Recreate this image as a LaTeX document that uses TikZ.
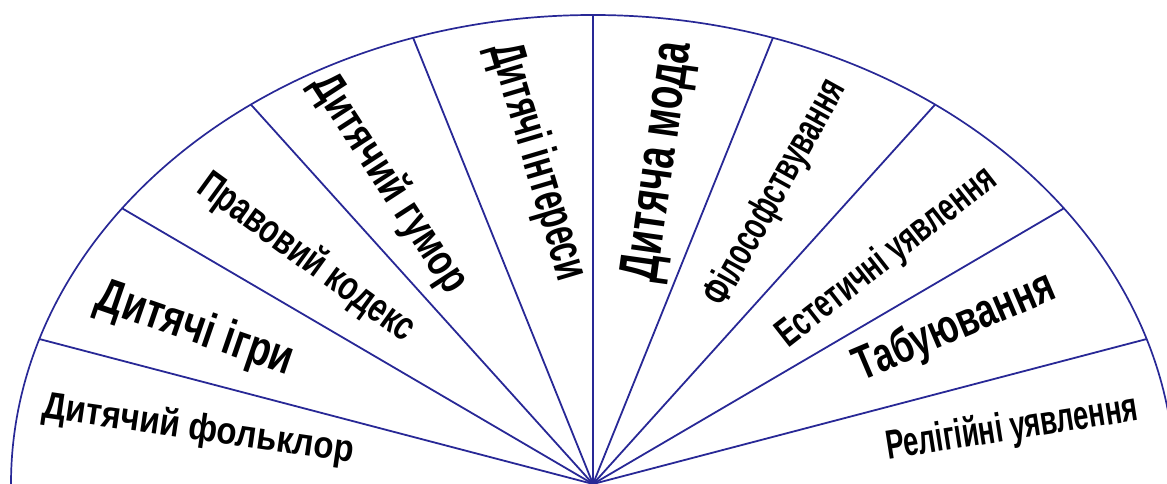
\documentclass[tikz,border=0pt]{standalone}
\usepackage{fontspec}
\setmainfont{Liberation Sans}
\usetikzlibrary{calc}
\definecolor{spokeblue}{RGB}{40,40,150}

\begin{document}
\begin{tikzpicture}[
    x=1pt, y=1pt,
    every node/.style={inner sep=0pt, text=black},
    spoke/.style={line width=1.8pt, spokeblue},
    rim/.style={line width=1.7pt, spokeblue},
    lbl/.style={font=\bfseries},
]

% === Fan: half ellipse split into ten sectors ===
\def\rimA{582}      % horizontal radius
\def\rimB{469}      % vertical radius

\useasboundingbox (0,0) rectangle (1167,484);
\coordinate (O) at (593,0);

% Outer rim
\draw[rim] (O) ++(\rimA,0) arc[start angle=0, end angle=180, x radius=\rimA, y radius=\rimB];

% Spokes
\foreach \ang in {18,36,...,162} {
    \draw[spoke] (O) -- +(\ang:\rimA pt and \rimB pt);
}
\draw[spoke] (O) -- +(90:\rimB);

% === Sector labels (left to right) ===
\node[lbl, rotate=-8.3] (folklore) at (198,54)
    {\fontsize{38}{40}\selectfont\resizebox{314pt}{\height}{Дитячий фольклор}};
\node[lbl, rotate=-19] (games) at (195,154)
    {\fontsize{49}{51}\selectfont\resizebox{205pt}{\height}{Дитячі ігри}};
\node[lbl, rotate=-36] (code) at (306,226)
    {\fontsize{41}{43}\selectfont\resizebox{258pt}{\height}{Правовий кодекс}};
\node[lbl, rotate=-57] (humour) at (389,300)
    {\fontsize{45}{47}\selectfont\resizebox{252pt}{\height}{Дитячий гумор}};
\node[lbl, rotate=-73.5] (interests) at (537,322)
    {\fontsize{50}{52}\selectfont\resizebox{245pt}{\height}{Дитячі інтереси}};
\node[lbl, rotate=82] (fashion) at (660,322)
    {\fontsize{56}{58}\selectfont\resizebox{242pt}{\height}{Дитяча мода}};
\node[lbl, rotate=61] (philosophy) at (776,291)
    {\fontsize{41}{43}\selectfont\resizebox{252pt}{\height}{Філософствування}};
\node[lbl, rotate=38] (aesthetics) at (887,226)
    {\fontsize{40}{42}\selectfont\resizebox{267pt}{\height}{Естетичні уявлення}};
\node[lbl, rotate=23] (taboo) at (955,156)
    {\fontsize{48}{50}\selectfont\resizebox{214pt}{\height}{Табуювання}};
\node[lbl, rotate=9] (religion) at (1012,55)
    {\fontsize{41}{43}\selectfont\resizebox{254pt}{\height}{Релігійні уявлення}};

\end{tikzpicture}
\end{document}
